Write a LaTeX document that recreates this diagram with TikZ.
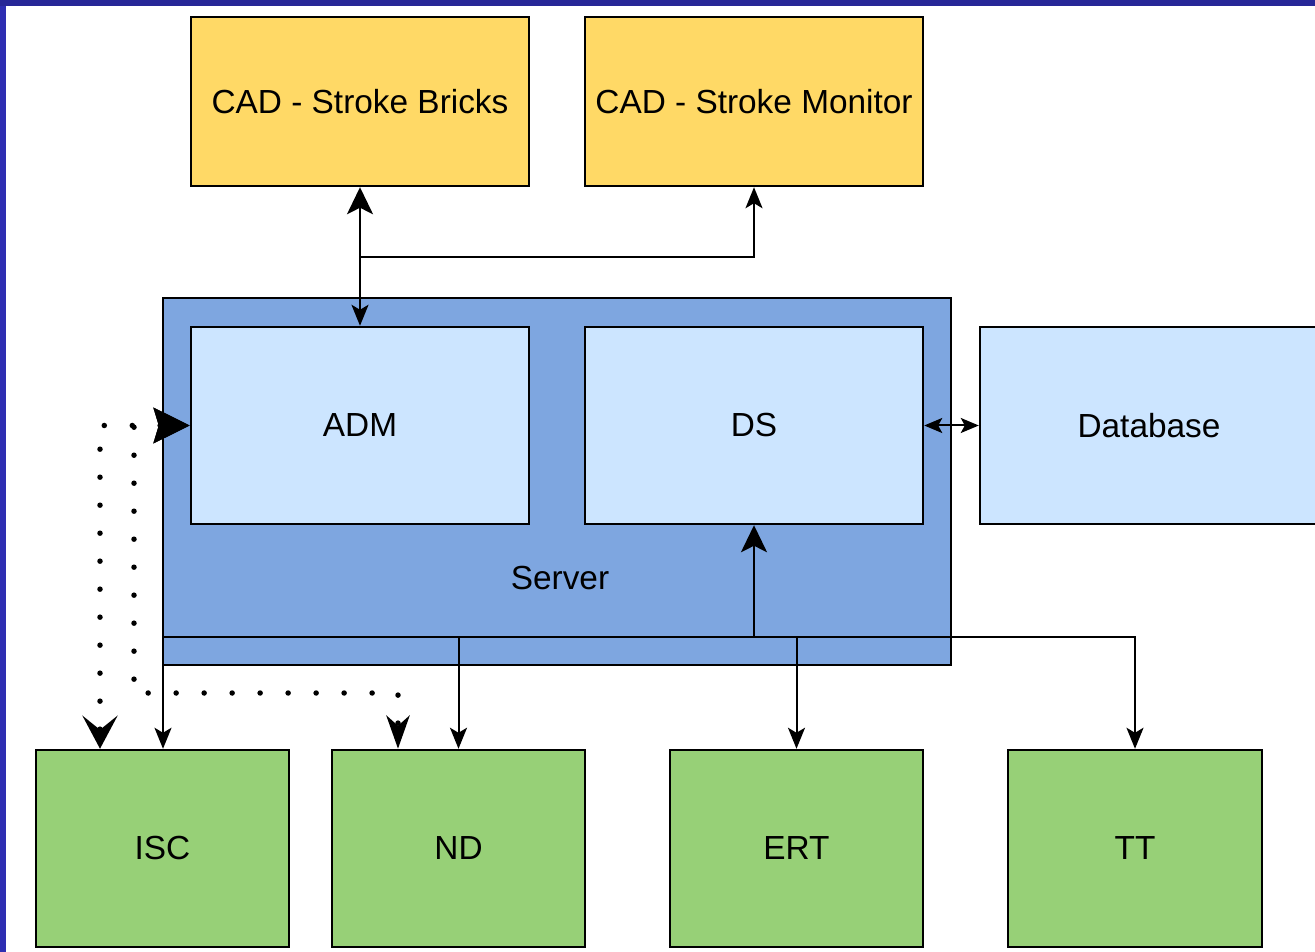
\documentclass[tikz,border=0pt]{standalone}
\usepackage{fontspec}
\setmainfont{Liberation Sans}
\usetikzlibrary{arrows.meta}
\definecolor{frameblue}{HTML}{2E2EB2}
\definecolor{cadyellow}{HTML}{FFD966}
\definecolor{serverblue}{HTML}{7EA6E0}
\definecolor{lightblue}{HTML}{CCE5FF}
\definecolor{boxgreen}{HTML}{97D077}
\tikzset{
  box/.style={draw=black, line width=0.05cm, inner sep=0pt, font=\fontsize{19}{22}\selectfont},
  cadbox/.style={box, fill=cadyellow, minimum width=6.76cm, minimum height=3.38cm},
  innerbox/.style={box, fill=lightblue, minimum width=6.76cm, minimum height=3.94cm},
  greenbox/.style={box, fill=boxgreen, minimum width=5.06cm, minimum height=3.94cm},
  conn/.style={line width=0.04cm, draw=black},
  arrS/.style={conn, -{Stealth[length=0.42cm, width=0.34cm, inset=0.1cm]}},
  arrL/.style={conn, -{Stealth[length=0.54cm, width=0.52cm, inset=0.13cm]}},
  dotp/.style={line width=0.11cm, line cap=round, dash pattern=on 0pt off 0.56cm},
}
\begin{document}
\begin{tikzpicture}[x=0.02cm, y=-0.02cm]
\useasboundingbox (0,0) rectangle (1315,952);
\fill[white] (0,0) rectangle (1315,952);
% frame strips
\fill[frameblue] (0,0) rectangle (6,952);
\fill[frameblue!85!black] (0,0) rectangle (1315,6);
% server
\node[box, fill=serverblue, minimum width=15.76cm, minimum height=7.34cm] (server) at (557,481.5) {};
\node[font=\fontsize{19}{22}\selectfont] (serverlbl) at (560,578) {Server};
% top boxes
\node[cadbox] (cb) at (360,101.5) {CAD - Stroke Bricks};
\node[cadbox] (cm) at (754,101.5) {CAD - Stroke Monitor};
% inner boxes
\node[innerbox] (adm) at (360,425.5) {ADM};
\node[innerbox] (ds) at (754,425.5) {DS};
\node[innerbox, text width=3cm, align=center] (db) at (1149,425.5) {Database};
% bottom boxes
\node[greenbox] (isc) at (162.5,848.5) {ISC};
\node[greenbox] (nd) at (458.5,848.5) {ND};
\node[greenbox] (ert) at (796.5,848.5) {ERT};
\node[greenbox, minimum width=5.08cm] (tt) at (1135,848.5) {TT};
% top connectors
\coordinate (j) at (360,257);
\draw[arrL] (j) -- (cb.south);
\draw[arrS] (j) -- (adm.north);
\draw[arrS] (j) -| (cm.south);
% DS <-> Database
\draw[conn, {Stealth[length=0.36cm, width=0.3cm, inset=0.08cm]}-{Stealth[length=0.36cm, width=0.3cm, inset=0.08cm]}] (ds.east) -- (db.west);
% bus
\coordinate (b0) at (163,637);
\draw[arrS] (b0) -- (isc.north -| b0);
\draw[arrS] (b0) -| (tt.north);
\draw[arrS] (nd.north |- b0) -- (nd.north);
\draw[arrS] (ert.north |- b0) -- (ert.north);
\draw[arrL] (ds.south |- b0) -- (ds.south);
% dotted connectors
\coordinate (d1) at (100,425.5);
\coordinate (d2) at (134,425.5);
\coordinate (d3) at (134,693);
\coordinate (d4) at (398,693);
\draw[dotp, arrows={Stealth[length=0.72cm, width=0.7cm, inset=0.1cm]-Stealth[length=0.66cm, width=0.7cm, inset=0.28cm]}] (adm.west) -- (d1) -- (d1 |- isc.north);
\draw[dotp, arrows={Stealth[length=0.72cm, width=0.7cm, inset=0.1cm]-Stealth[length=0.66cm, width=0.46cm, inset=0.2cm]}] (adm.west) -- (d2) -- (d3) -- (d4) -- (d4 |- nd.north);
\end{tikzpicture}
\end{document}
